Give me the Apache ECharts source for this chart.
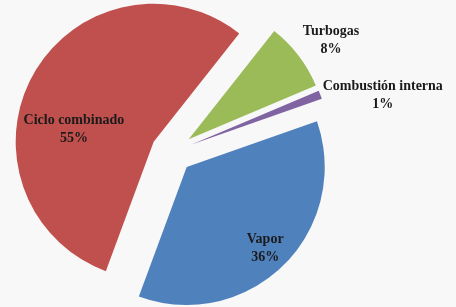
<!DOCTYPE html>
<html>
<head>
<meta charset="utf-8">
<script src="https://cdn.jsdelivr.net/npm/echarts@6/dist/echarts.min.js"></script>
<style>
    html,body{margin:0;padding:0;background:#f8f8f8;}
    #main{width:456px;height:307px;}
</style>
</head>
<body>
<div id="main"></div>
<script>
// datos de generación por tecnología
var categorias = ['Turbogas', 'Combustión interna', 'Vapor', 'Ciclo combinado'];
var valores = [8, 1, 36, 55];
var colores = ['#9bbb59', '#8064a2', '#4f81bd', '#c0504d'];
// desplazamiento de las etiquetas respecto a la posicion interior
var ajusteEtiqueta = [[85, -55], [124, -23], [28, 30], [-17, 23]];

var myChart = echarts.init(document.getElementById('main'));

var datos = [];
for (var i = 0; i < categorias.length; i++) {
    datos.push({
        name: categorias[i],
        value: valores[i],
        selected: true,
        itemStyle: {color: colores[i]}
    });
}

option = {
    backgroundColor: '#f8f8f8',
    animation: false,
    series: [
        {
            type: 'pie',
            center: [172, 152],
            radius: 138,
            startAngle: 51.7,
            clockwise: true,
            selectedMode: 'multiple',
            selectedOffset: 21,
            percentPrecision: 0,
            data: datos,
            label: {
                show: true,
                position: 'inside',
                formatter: '{b}\n{d}%',
                fontFamily: 'Liberation Serif',
                fontWeight: 'bold',
                fontSize: 14,
                lineHeight: 18,
                color: '#1a1a1a'
            },
            labelLine: {show: false},
            labelLayout: function (params) {
                var a = ajusteEtiqueta[params.dataIndex];
                return {dx: a[0], dy: a[1]};
            },
            emphasis: {disabled: true},
            select: {itemStyle: {}}
        }
    ]
};
myChart.setOption(option, true);
</script>
</body>
</html>
